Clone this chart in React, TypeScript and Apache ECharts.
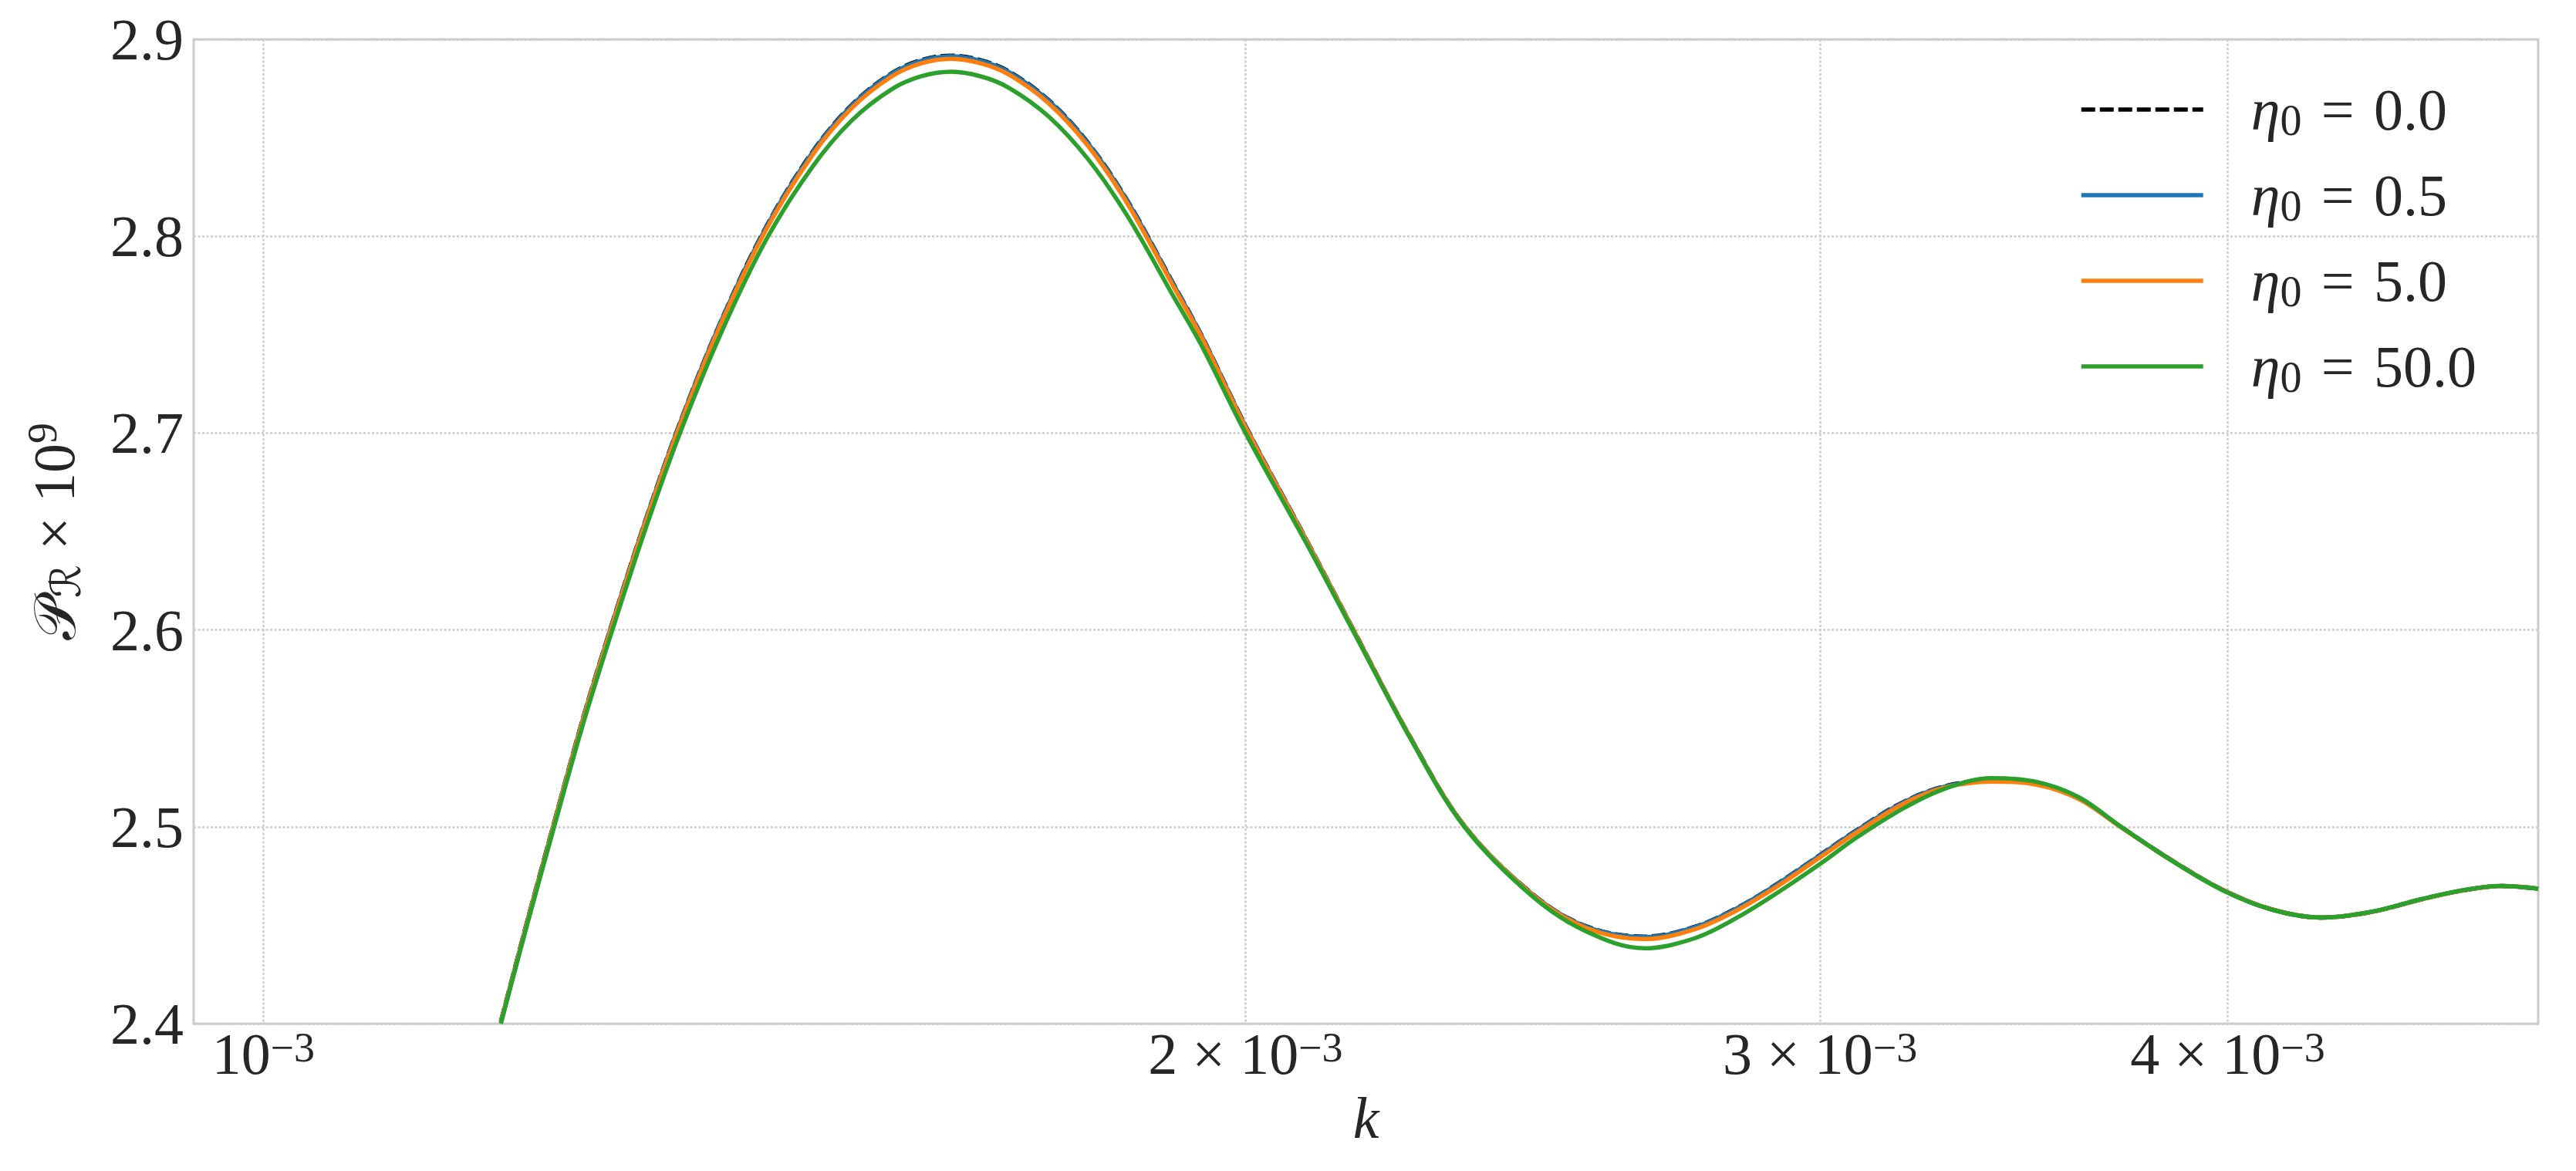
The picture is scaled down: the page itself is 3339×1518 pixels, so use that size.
import { useEffect, useRef } from 'react';
import * as echarts from 'echarts';

// ---- data ----
const K_VALUES = [
  0.0011825, 0.001205, 0.0012278, 0.001253, 0.0012793, 0.00131, 0.0013418, 0.001382,
  0.0014263, 0.0014737, 0.001515, 0.0015575, 0.00159, 0.0016242, 0.00166, 0.0016928,
  0.0017403, 0.0017895, 0.00184, 0.0019, 0.0019381, 0.002, 0.002087, 0.002157,
  0.002247, 0.002334, 0.002448, 0.0025431, 0.0026504, 0.0027462, 0.0028284, 0.002913,
  0.0030005, 0.0030814, 0.0031826, 0.0032778, 0.0033858, 0.003498, 0.003603, 0.00371,
  0.003845, 0.003984, 0.004127, 0.004275, 0.004429, 0.004587, 0.004727, 0.004853,
  0.00498,
];

const P_ETA_0_0 = [
  2.4011, 2.4527, 2.5022, 2.555, 2.6037, 2.6564, 2.7052, 2.7578,
  2.8051, 2.8431, 2.8668, 2.8826, 2.8893, 2.8917, 2.8893, 2.8836,
  2.8692, 2.8475, 2.8181, 2.7763, 2.7502, 2.7037, 2.6463, 2.6009,
  2.5453, 2.5006, 2.4661, 2.4495, 2.4442, 2.4492, 2.4587, 2.4714,
  2.4858, 2.4987, 2.5127, 2.5207, 2.5234, 2.5217, 2.5142, 2.4999,
  2.483, 2.4682, 2.458, 2.4539, 2.4568, 2.4632, 2.4678, 2.4699,
  2.4686,
];

const P_ETA_0_5 = [
  2.401, 2.4525, 2.502, 2.5548, 2.6035, 2.6562, 2.705, 2.7576,
  2.8048, 2.8428, 2.8665, 2.8823, 2.889, 2.8914, 2.889, 2.8833,
  2.8689, 2.8472, 2.8178, 2.776, 2.75, 2.7035, 2.6462, 2.6008,
  2.5452, 2.5005, 2.466, 2.4493, 2.444, 2.449, 2.4585, 2.4712,
  2.4856, 2.4985, 2.5125, 2.5205, 2.5232, 2.5216, 2.5141, 2.4998,
  2.483, 2.4682, 2.458, 2.4539, 2.4568, 2.4632, 2.4678, 2.4699,
  2.4686,
];

const P_ETA_5_0 = [
  2.4007, 2.4521, 2.5015, 2.5541, 2.6027, 2.6553, 2.704, 2.7564,
  2.8036, 2.8415, 2.8652, 2.881, 2.8877, 2.8901, 2.8877, 2.882,
  2.8676, 2.8459, 2.8166, 2.775, 2.7492, 2.7029, 2.6459, 2.6007,
  2.5451, 2.5004, 2.4657, 2.4487, 2.443, 2.448, 2.4575, 2.4701,
  2.4846, 2.4976, 2.5118, 2.52, 2.5229, 2.5213, 2.5139, 2.4997,
  2.4829, 2.4681, 2.458, 2.4539, 2.4568, 2.4632, 2.4678, 2.4699,
  2.4686,
];

const P_ETA_50_0 = [
  2.4, 2.451, 2.5, 2.552, 2.6, 2.652, 2.7, 2.7516,
  2.7985, 2.8355, 2.8589, 2.8745, 2.8811, 2.8835, 2.8811, 2.8753,
  2.8609, 2.8392, 2.8103, 2.77, 2.745, 2.7, 2.6445, 2.6,
  2.5447, 2.5, 2.4649, 2.4469, 2.4383, 2.4434, 2.4537, 2.4668,
  2.4812, 2.495, 2.5095, 2.5195, 2.5247, 2.5227, 2.5148, 2.5,
  2.4828, 2.4679, 2.4579, 2.4539, 2.4569, 2.4633, 2.4679, 2.4699,
  2.4685,
];

const ETA_LABELS = ['0.0', '0.5', '5.0', '50.0'];
const SERIES_VALUES = [P_ETA_0_0, P_ETA_0_5, P_ETA_5_0, P_ETA_50_0];
const SERIES_COLORS = ['#000000', '#1f77b4', '#ff7f0e', '#2ca02c'];

const X_TICKS = [0.001, 0.002, 0.003, 0.004];
const X_TICK_MANTISSAS = ['', '2 × ', '3 × ', '4 × '];
const X_TICK_EXPONENT = '−3';
const X_MIN = 0.000952;
const X_MAX = 0.00498;

const Y_MIN = 2.4;
const Y_MAX = 2.9;
const Y_STEP = 0.1;

// ---- styling ----
const FONT = '"Liberation Serif", "DejaVu Serif", serif';
const MATH_FONT = '"DejaVu Serif", "DejaVu Sans", "Liberation Serif", serif';
const TEXT_COLOR = '#262626';
const GRID_COLOR = '#cccccc';
const FS = 76;
const LINE_W = 5.5;

export default function App() {
  const ref = useRef<HTMLDivElement>(null);

  useEffect(() => {
    if (!ref.current) return;
    const chart = echarts.init(ref.current, undefined, { renderer: 'svg' });

    const names = ETA_LABELS.map((v) => `η0 = ${v}`);

    const series = SERIES_VALUES.map((vals, i) => ({
      name: names[i],
      type: 'line',
      data: K_VALUES.map((k, j) => [k, vals[j]]),
      showSymbol: false,
      symbol: 'none',
      smooth: 0.35,
      silent: true,
      z: 2 + i,
      lineStyle: {
        color: SERIES_COLORS[i],
        width: LINE_W,
        type: i === 0 ? [18, 6] : 'solid',
        cap: 'butt',
      },
      itemStyle: { color: SERIES_COLORS[i] },
      emphasis: { disabled: true },
    }));

    const option: any = {
      animation: false,
      backgroundColor: '#ffffff',
      grid: {
        left: 251,
        right: 49,
        top: 51,
        bottom: 191,
        show: true,
        borderColor: GRID_COLOR,
        borderWidth: 3,
        containLabel: false,
        outerBoundsMode: 'none',
      },
      legend: {
        orient: 'vertical',
        left: 2695,
        top: 104,
        padding: 0,
        itemWidth: 158,
        itemHeight: 20,
        itemGap: 31,
        data: names,
        selectedMode: false,
        itemStyle: { opacity: 0, borderWidth: 0 },
        lineStyle: { width: LINE_W },
        formatter: (name: string) => {
          const rhs = name.split(' = ')[1];
          return `{eta|η}{sub|0}{t|\u2004=\u2004${rhs}}`;
        },
        textStyle: {
          padding: [0, 0, 0, 57],
          color: TEXT_COLOR,
          fontFamily: FONT,
          fontSize: FS,
          rich: {
            eta: { fontFamily: FONT, fontStyle: 'italic', fontSize: FS, lineHeight: 84, color: TEXT_COLOR },
            sub: { fontFamily: FONT, fontSize: 56, lineHeight: 48, verticalAlign: 'bottom', color: TEXT_COLOR },
            t: { fontFamily: FONT, fontSize: FS, lineHeight: 84, color: TEXT_COLOR },
          },
        },
      },
      xAxis: {
        type: 'log',
        logBase: 10,
        min: X_MIN,
        max: X_MAX,
        name: 'k',
        nameLocation: 'middle',
        nameGap: 78,
        nameTextStyle: {
          fontFamily: FONT,
          fontStyle: 'italic',
          fontSize: FS,
          lineHeight: 80,
          color: TEXT_COLOR,
        },
        axisLine: { show: false },
        axisTick: { show: false, customValues: X_TICKS },
        minorTick: { show: false },
        minorSplitLine: { show: false },
        axisLabel: {
          customValues: X_TICKS,
          margin: 4,
          color: TEXT_COLOR,
          formatter: (value: number) => {
            let idx = 0;
            let best = Infinity;
            X_TICKS.forEach((t, i) => {
              const d = Math.abs(Math.log10(t) - Math.log10(value));
              if (d < best) {
                best = d;
                idx = i;
              }
            });
            return `{m|${X_TICK_MANTISSAS[idx]}10}{sup|${X_TICK_EXPONENT}}`;
          },
          rich: {
            m: { fontFamily: FONT, fontSize: FS, lineHeight: 70, color: TEXT_COLOR },
            sup: { fontFamily: FONT, fontSize: 54, lineHeight: 30, verticalAlign: 'top', color: TEXT_COLOR },
          },
        },
        splitLine: {
          show: true,
          lineStyle: { color: GRID_COLOR, width: 2.5, type: [3, 2.5] },
        },
      },
      yAxis: {
        type: 'value',
        min: Y_MIN,
        max: Y_MAX,
        interval: Y_STEP,
        name: '{p|𝒫}{sub|ℛ}{t| × 10}{sup|9}',
        nameLocation: 'middle',
        nameGap: 139,
        nameRotate: 90,
        nameTextStyle: {
          color: TEXT_COLOR,
          fontFamily: FONT,
          fontSize: FS,
          rich: {
            p: { fontFamily: MATH_FONT, fontSize: FS, lineHeight: 84, color: TEXT_COLOR },
            sub: { fontFamily: MATH_FONT, fontSize: 54, lineHeight: 48, verticalAlign: 'bottom', color: TEXT_COLOR },
            t: { fontFamily: FONT, fontSize: FS, lineHeight: 84, color: TEXT_COLOR },
            sup: { fontFamily: FONT, fontSize: 54, lineHeight: 40, verticalAlign: 'top', color: TEXT_COLOR },
          },
        },
        axisLine: { show: false },
        axisTick: { show: false },
        axisLabel: {
          margin: 13,
          color: TEXT_COLOR,
          fontFamily: FONT,
          fontSize: FS,
          formatter: (v: number) => v.toFixed(1),
        },
        splitLine: {
          show: true,
          lineStyle: { color: GRID_COLOR, width: 2.5, type: [3, 2.5] },
        },
      },
      series,
    };

    chart.setOption(option);
    return () => {
      chart.dispose();
    };
  }, []);

  return (
    <div
      ref={ref}
      style={{ position: 'absolute', left: 0, top: 0, width: 3339, height: 1518, background: '#ffffff' }}
    />
  );
}
